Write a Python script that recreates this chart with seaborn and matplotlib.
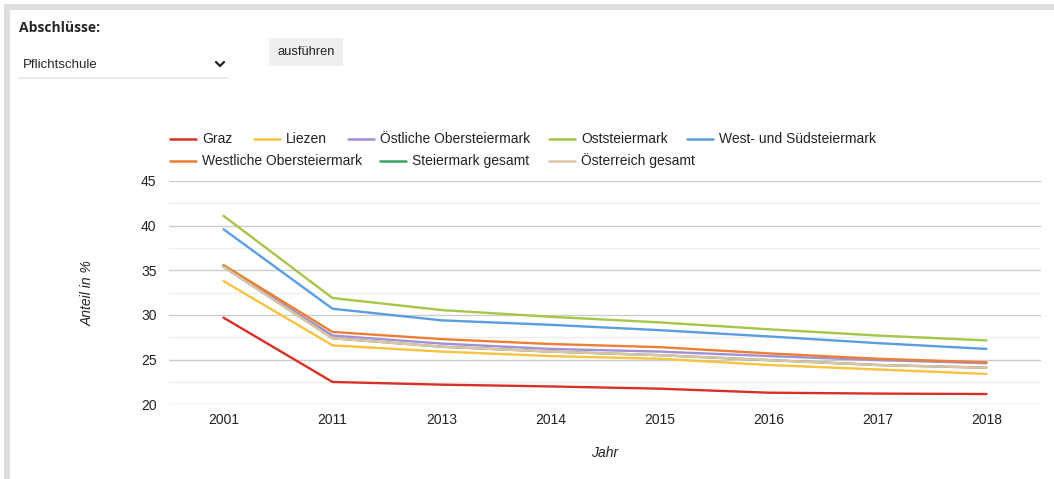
import matplotlib
matplotlib.use("Agg")
import matplotlib.pyplot as plt
import seaborn as sns
import pandas as pd
from matplotlib.patches import Rectangle

# data (Anteil in %)
years = ['2001', '2011', '2013', '2014', '2015', '2016', '2017', '2018']
regions = ['Graz', 'Liezen', 'Östliche Obersteiermark', 'Oststeiermark',
           'West- und Südsteiermark', 'Westliche Obersteiermark',
           'Steiermark gesamt', 'Österreich gesamt']
graz = [29.7, 22.5, 22.2, 22.0, 21.75, 21.3, 21.2, 21.15]
liezen = [33.8, 26.6, 25.9, 25.4, 25.1, 24.4, 23.9, 23.4]
oestliche = [35.5, 27.7, 26.8, 26.2, 25.9, 25.4, 24.95, 24.6]
oststeiermark = [41.1, 31.9, 30.55, 29.8, 29.17, 28.4, 27.7, 27.15]
west_sued = [39.6, 30.7, 29.4, 28.9, 28.3, 27.6, 26.85, 26.2]
westliche = [35.6, 28.1, 27.3, 26.75, 26.4, 25.7, 25.1, 24.7]
steiermark = [35.4, 27.4, 26.45, 25.9, 25.5, 24.95, 24.4, 24.1]
oesterreich = [35.4, 27.4, 26.45, 25.9, 25.5, 24.95, 24.4, 24.1]
colors = ['#d93025', '#f6c342', '#a28fd8', '#a7c548', '#5b9ee0',
          '#ec7f33', '#3aa363', '#dfc3a2']

series = [graz, liezen, oestliche, oststeiermark, west_sued, westliche,
          steiermark, oesterreich]
rows = []
for name, vals in zip(regions, series):
    for y, v in zip(years, vals):
        rows.append({'Jahr': y, 'Anteil': v, 'Region': name})
df = pd.DataFrame(rows)

sns.set_style('white')
plt.rcParams['font.family'] = ['Liberation Sans', 'DejaVu Sans']

W, H = 1054, 479
fig = plt.figure(figsize=(W / 100, H / 100), dpi=100)

# page overlay in pixel coordinates (frame, form controls, legend)
ui = fig.add_axes([0, 0, 1, 1], zorder=0)
ui.set_xlim(0, W)
ui.set_ylim(H, 0)
ui.axis('off')
ui.add_patch(Rectangle((4, 4), W - 4, 6, color='#dddddd', lw=0))
ui.add_patch(Rectangle((4, 4), 6, H - 4, color='#dddddd', lw=0))
ui.text(19, 28, 'Abschlüsse:', fontsize=10, fontweight='bold',
        family=['Open Sans', 'DejaVu Sans'], va='center', ha='left')
ui.text(23, 65, 'Pflichtschule', fontsize=9.5, va='center', ha='left')
ui.plot([216, 220, 224], [62, 66, 62], color='#222222', lw=1.6,
        solid_capstyle='round', solid_joinstyle='round')
ui.plot([19, 228], [77.5, 77.5], color='#e8e8e8', lw=1.2)
ui.add_patch(Rectangle((269, 38), 74, 28, color='#efefef', lw=0))
ui.text(306, 52, 'ausführen', fontsize=9.3, va='center', ha='center',
        color='#222222')

# legend laid out like the original (flowing entries)
leg_pos = [(170, 139), (254, 139), (348, 139), (549, 139), (687, 139),
           (170, 161), (380, 161), (549, 161)]
for name, col, (lx, ly) in zip(regions, colors, leg_pos):
    ui.plot([lx, lx + 26], [ly, ly], color=col, lw=1.8)
    ui.text(lx + 32, ly, name, fontsize=10, va='center', ha='left',
            color='#222222')

ax = fig.add_axes([169 / W, (H - 404.3) / H, 872 / W, 223.3 / H], zorder=1)
ax.patch.set_alpha(0)
sns.lineplot(data=df, x='Jahr', y='Anteil', hue='Region', hue_order=regions,
             palette=colors, sort=False, estimator=None, linewidth=1.7,
             legend=False, ax=ax)

ax.set_xlim(-0.5, len(years) - 0.5)
ax.set_ylim(20, 45)
ax.set_yticks([20, 25, 30, 35, 40, 45])
ax.set_yticks([22.5, 27.5, 32.5, 37.5, 42.5], minor=True)
ax.grid(axis='y', which='major', color='#cccccc', lw=1)
ax.grid(axis='y', which='minor', color='#eeeeee', lw=1)
ax.set_axisbelow(True)
for s in ax.spines.values():
    s.set_visible(False)
ax.tick_params(axis='both', which='both', length=0, labelsize=10,
               labelcolor='#222222')
ax.tick_params(axis='y', pad=9)
ax.tick_params(axis='x', pad=6)
ax.set_xlabel('Jahr', fontsize=10, style='italic', color='#222222', labelpad=14)
ax.set_ylabel('Anteil in %', fontsize=10, style='italic', color='#222222',
              labelpad=33)

fig.savefig('out.png', dpi=100)
